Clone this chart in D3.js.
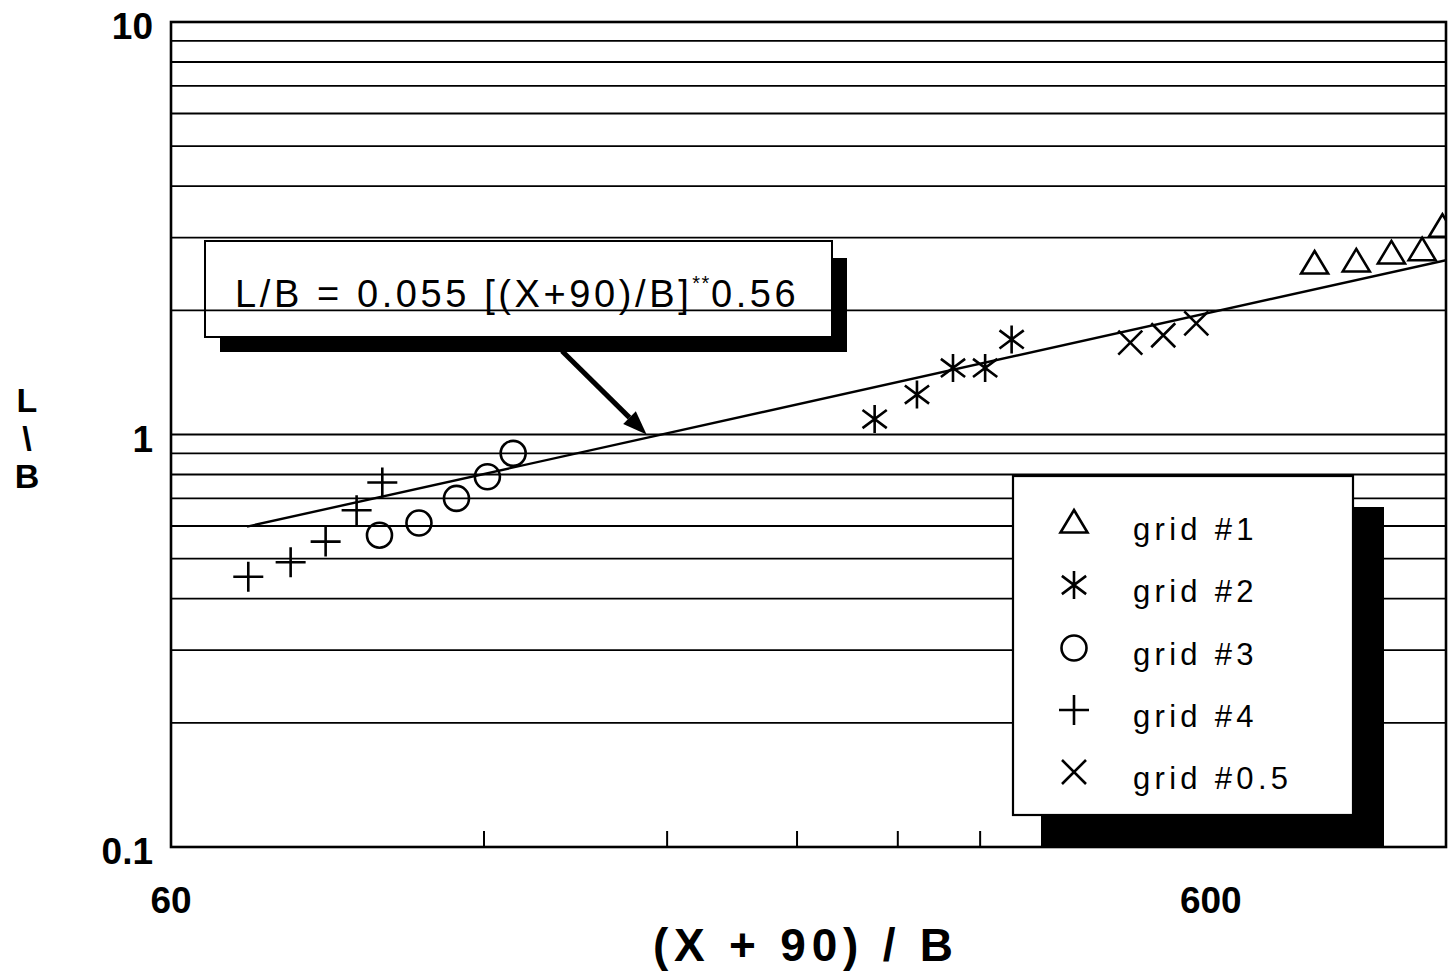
<!DOCTYPE html>
<html><head><meta charset="utf-8">
<script src="https://cdn.jsdelivr.net/npm/d3@7/dist/d3.min.js"></script>
<style>
html,body{margin:0;padding:0;background:#fff;}
svg{display:block;}
text{font-family:"Liberation Sans",Arial,sans-serif;fill:#000;}
</style></head>
<body>
<svg id="chart" width="1448" height="974"></svg>
<script>
// ---- data ----
const grid1X = [755, 828, 895, 958, 1002];
const grid1Y = [2.59, 2.62, 2.74, 2.79, 3.18];
const grid2X = [285, 313, 339, 364, 386];
const grid2Y = [1.09, 1.25, 1.45, 1.45, 1.70];
const grid3X = [95.2, 103.9, 112.9, 120.9, 128.0];
const grid3Y = [0.57, 0.61, 0.70, 0.79, 0.90];
const grid4X = [71.2, 78.2, 84.5, 90.5, 95.8];
const grid4Y = [0.452, 0.49, 0.55, 0.655, 0.765];
const grid05X = [502, 540, 581];
const grid05Y = [1.67, 1.74, 1.86];
const fitX = [71, 1010];
const fitY = [0.598, 2.646];
const xDomain = [60, 1010];
const yDomain = [0.1, 10];
const xTickLabels = [60, 600];
const yTickLabels = [0.1, 1, 10];
const xMinorTicks = [120, 180, 240, 300, 360, 420, 480, 540, 600];
const yGridValues = [0.2,0.3,0.4,0.5,0.6,0.7,0.8,0.9,1,2,3,4,5,6,7,8,9];
const legendLabels = ["grid #1", "grid #2", "grid #3", "grid #4", "grid #0.5"];
const annotationText = ["L/B = 0.055 [(X+90)/B]", "**", "0.56"];
const annotationTip = [172, 1.0];

// ---- layout ----
const svg = d3.select("#chart");
const L = 171, T = 22, R = 1446, B = 847;
const x = d3.scaleLog().domain(xDomain).range([L, R]);
const y = d3.scaleLog().domain(yDomain).range([B, T]);
const SW = 2.6;

svg.append("defs").append("clipPath").attr("id","clip")
  .append("rect").attr("x",L).attr("y",T).attr("width",R-L).attr("height",B-T);

// annotation box (behind gridlines)
svg.append("rect").attr("x",220).attr("y",258).attr("width",627).attr("height",94).attr("fill","#000");
svg.append("rect").attr("x",205).attr("y",241).attr("width",627).attr("height",96)
  .attr("fill","#fff").attr("stroke","#000").attr("stroke-width",2);

// annotation text
const at = svg.append("text").attr("x",235).attr("y",307).attr("font-size",38).attr("letter-spacing",3.6);
at.append("tspan").text(annotationText[0]);
at.append("tspan").attr("dy",-17).attr("font-size",20).attr("letter-spacing",1.5).text(annotationText[1]);
at.append("tspan").attr("dy",17).attr("font-size",38).attr("letter-spacing",3.6).text(annotationText[2]);

// gridlines
svg.append("g").selectAll("line").data(yGridValues).join("line")
  .attr("x1",L).attr("x2",R).attr("y1",d=>y(d)).attr("y2",d=>y(d))
  .attr("stroke","#000").attr("stroke-width",d=>d===1?2.2:1.8);

// minor x ticks (upward from bottom axis)
svg.append("g").selectAll("line").data(xMinorTicks).join("line")
  .attr("x1",d=>x(d)).attr("x2",d=>x(d)).attr("y1",B).attr("y2",B-16)
  .attr("stroke","#000").attr("stroke-width",2);

// frame
svg.append("rect").attr("x",L).attr("y",T).attr("width",R-L).attr("height",B-T)
  .attr("fill","none").attr("stroke","#000").attr("stroke-width",2.6);

// tick labels
svg.append("g").selectAll("text").data(yTickLabels).join("text")
  .attr("x",153).attr("y",d=>y(d)+17)
  .attr("text-anchor","end").attr("font-size",37).attr("font-weight","bold")
  .text(d=>d);
svg.append("g").selectAll("text").data(xTickLabels).join("text")
  .attr("x",d=>x(d)).attr("y",913)
  .attr("text-anchor","middle").attr("font-size",37).attr("font-weight","bold")
  .text(d=>d);

// axis titles
svg.append("text").attr("x",803).attr("y",961).attr("text-anchor","middle")
  .attr("font-size",46).attr("font-weight","bold").attr("textLength",300)
  .attr("lengthAdjust","spacing").text("(X + 90) / B");
const yl = svg.append("g").attr("font-size",34).attr("font-weight","bold");
[["L",412],["\\",450],["B",488]].forEach(([t,yy])=>{
  yl.append("text").attr("x",27).attr("y",yy).attr("text-anchor","middle").text(t);
});

// fit line
const plot = svg.append("g").attr("clip-path","url(#clip)");
plot.append("path").datum(d3.zip(fitX, fitY))
  .attr("d", d3.line().x(d=>x(d[0])).y(d=>y(d[1])))
  .attr("fill","none").attr("stroke","#000").attr("stroke-width",2.4);

// marker generators
function triangle(g){ g.append("path").attr("d","M0,-13 L13.5,9.5 L-13.5,9.5 Z").attr("fill","none").attr("stroke","#000").attr("stroke-width",SW).attr("stroke-linejoin","miter"); }
function asterisk(g){
  const r=14, a=r*Math.cos(Math.PI/6), b=r*Math.sin(Math.PI/6)*1.3;
  g.append("path").attr("d",`M0,${-r}L0,${r}M${-a},${-b}L${a},${b}M${-a},${b}L${a},${-b}`)
   .attr("stroke","#000").attr("stroke-width",SW).attr("fill","none");
}
function circle(g){ g.append("circle").attr("r",12.5).attr("fill","none").attr("stroke","#000").attr("stroke-width",SW); }
function plus(g){ g.append("path").attr("d","M-15,0L15,0M0,-15L0,15").attr("stroke","#000").attr("stroke-width",SW).attr("fill","none"); }
function cross(g){ g.append("path").attr("d","M-12,-12L12,12M-12,12L12,-12").attr("stroke","#000").attr("stroke-width",SW).attr("fill","none"); }

const series = [
  {xs:grid1X, ys:grid1Y, m:triangle},
  {xs:grid2X, ys:grid2Y, m:asterisk},
  {xs:grid3X, ys:grid3Y, m:circle},
  {xs:grid4X, ys:grid4Y, m:plus},
  {xs:grid05X, ys:grid05Y, m:cross}
];
series.forEach(s=>{
  plot.append("g").selectAll("g").data(d3.zip(s.xs, s.ys)).join("g")
    .attr("transform",d=>`translate(${x(d[0])},${y(d[1])})`)
    .each(function(){ s.m(d3.select(this)); });
});

// legend
svg.append("rect").attr("x",1041).attr("y",507).attr("width",343).attr("height",B-507).attr("fill","#000");
svg.append("rect").attr("x",1013).attr("y",476).attr("width",340).attr("height",339)
  .attr("fill","#fff").attr("stroke","#000").attr("stroke-width",2.2);
const legG = svg.append("g");
const rowY = [523, 585, 648, 710, 772];
legendLabels.forEach((lab,i)=>{
  const g = legG.append("g").attr("transform",`translate(1074,${rowY[i]})`);
  series[i].m(g);
  legG.append("text").attr("x",1133).attr("y",rowY[i]+17).attr("font-size",31)
    .attr("letter-spacing",4.3).text(lab);
});

// annotation arrow
const tip = [x(annotationTip[0]), y(annotationTip[1])];
const start = [562, 351];
const ang = Math.atan2(tip[1]-start[1], tip[0]-start[0]);
const hl = 24, hw = 9;
const base = [tip[0]-hl*Math.cos(ang), tip[1]-hl*Math.sin(ang)];
svg.append("line").attr("x1",start[0]).attr("y1",start[1]).attr("x2",base[0]).attr("y2",base[1])
  .attr("stroke","#000").attr("stroke-width",5);
svg.append("path").attr("d",`M${tip[0]},${tip[1]}L${base[0]+hw*Math.sin(ang)},${base[1]-hw*Math.cos(ang)}L${base[0]-hw*Math.sin(ang)},${base[1]+hw*Math.cos(ang)}Z`)
  .attr("fill","#000");
</script>
</body></html>
